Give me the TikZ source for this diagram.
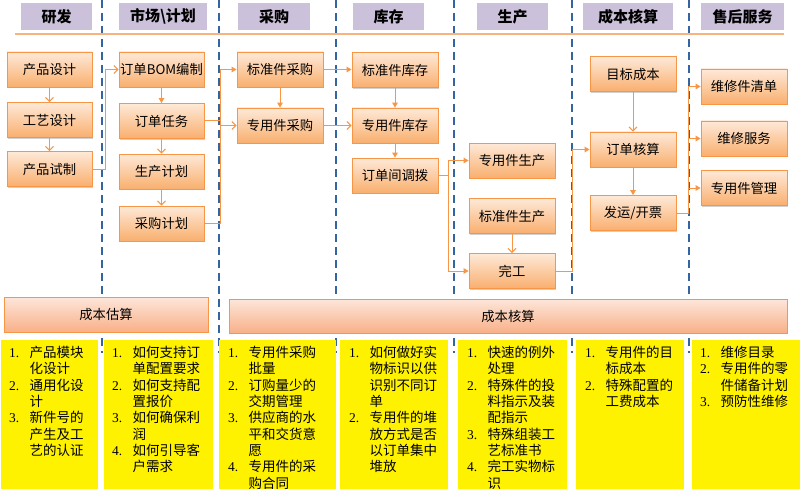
\documentclass[tikz,border=0pt]{standalone}
\usepackage{fontspec}
\setmainfont{Noto Sans CJK SC}
\newfontfamily\numf{Liberation Serif}
\usetikzlibrary{arrows.meta,shadows}
\definecolor{ob}{HTML}{F79646}
\definecolor{boxtop}{HTML}{FEE9D8}
\definecolor{boxbot}{HTML}{F9AF6E}
\definecolor{bartop}{HTML}{FDE6DA}
\definecolor{barbot}{HTML}{F8B088}
\definecolor{hdrc}{HTML}{CCC1DA}
\definecolor{dashc}{HTML}{3465A0}
\definecolor{hline}{HTML}{F8B47E}
\newcommand\N[1]{\makebox[20.5pt][l]{\numf #1}}
\tikzset{
  box/.style={draw=ob, line width=0.8pt, top color=boxtop, bottom color=boxbot,
    minimum width=86pt, minimum height=35pt, inner sep=0pt,
    font=\fontsize{13.3}{15}\selectfont,
    drop shadow={shadow xshift=1.3pt, shadow yshift=-1.3pt, opacity=0.3, fill=black!60}},
  hdr/.style={fill=hdrc, minimum height=27pt, inner sep=0pt, font=\fontsize{15}{17}\selectfont\bfseries},
  bar/.style={draw=ob, line width=0.8pt, top color=bartop, bottom color=barbot,
    inner sep=0pt, font=\fontsize{13.3}{15}\selectfont,
    drop shadow={shadow xshift=1.3pt, shadow yshift=-1.3pt, opacity=0.3, fill=black!60}},
  conn/.style={draw=ob, line width=1pt},
  arF/.style={conn, -{Triangle[length=5pt,width=5.5pt]}},
  arO/.style={conn, -{Straight Barb[length=4pt,width=8pt]}},
  vdash/.style={draw=dashc, line width=2.2pt, dash pattern=on 8pt off 5pt},
  ylist/.style={anchor=north west, inner sep=0pt, font=\fontsize{13.5}{16.3}\selectfont, align=left},
}
\begin{document}
\begin{tikzpicture}[x=1pt,y=-1pt]
\useasboundingbox (0,0) rectangle (800,500);
\fill[white] (0,0) rectangle (800,500);
% dashed separators
\foreach \x/\n in {102/d1,219/d2,336/d3,454/d4,572/d5,689/d6}
  \coordinate (\n) at (\x,0);
\foreach \n in {d1,d2,d3,d4,d5,d6}
  \draw[vdash] (\n) -- ++(0,353);
% header line
\coordinate (hl1) at (15,34); \coordinate (hl2) at (784,34);
\draw[draw=hline, line width=1.5pt] (hl1) -- (hl2);
% headers
\node[hdr, minimum width=71pt] (h1) at (56.5,16.5) {研发};
\node[hdr, minimum width=88pt] (h2) at (163,16.5) {市场\textbackslash 计划};
\node[hdr, minimum width=72pt] (h3) at (274,16.5) {采购};
\node[hdr, minimum width=71pt] (h4) at (388.5,16.5) {库存};
\node[hdr, minimum width=71pt] (h5) at (512.5,16.5) {生产};
\node[hdr, minimum width=90pt] (h6) at (628,16.5) {成本核算};
\node[hdr, minimum width=83pt] (h7) at (742.5,16.5) {售后服务};
% boxes
\node[box, minimum width=85pt] (p1) at (49.5,69.5) {产品设计};
\node[box, minimum width=85pt] (p2) at (49.5,120) {工艺设计};
\node[box, minimum width=85pt] (p3) at (49.5,169) {产品试制};
\node[box, minimum width=85pt] (m1) at (161.5,69.5) {订单BOM编制};
\node[box, minimum width=85pt] (m2) at (161.5,121) {订单任务};
\node[box, minimum width=85pt] (m3) at (161.5,171.5) {生产计划};
\node[box, minimum width=85pt] (m4) at (161.5,223.5) {采购计划};
\node[box] (c1) at (280,69.5) {标准件采购};
\node[box] (c2) at (280,125.5) {专用件采购};
\node[box] (k1) at (395,70) {标准件库存};
\node[box] (k2) at (395,125.5) {专用件库存};
\node[box] (k3) at (395,175.5) {订单间调拨};
\node[box] (s1) at (512,160.5) {专用件生产};
\node[box] (s2) at (512,216) {标准件生产};
\node[box] (s3) at (512,271) {完工};
\node[box] (b1) at (633,74) {目标成本};
\node[box] (b2) at (633,149.5) {订单核算};
\node[box] (b3) at (633,213) {发运/开票};
\node[box] (a1) at (744,86.5) {维修件清单};
\node[box] (a2) at (744,138.5) {维修服务};
\node[box] (a3) at (744,188) {专用件管理};
% connectors
\draw[arO] (p1) -- (p2);
\draw[arO] (p2) -- (p3);
\draw[arO] (p3.east) -- ++(13,0) |- (m1.west);
\draw[arF] (m1) -- (m2);
\draw[arO] (m2) -- (m3);
\draw[arO] (m3) -- (m4);
\draw[arF] (m4.east) -- ++(16,0) |- (c1.west);
\draw[arO] (m2.east) -- ++(16,0) |- (c2.west);
\draw[arF] (c1) -- (c2);
\draw[arF] (c1.east) -- (c1.east -| k1.west);
\draw[arO] (c2.east) -- (c2.east -| k2.west);
\draw[arF] (k1) -- (k2);
\draw[arF] (k2) -- (k3);
\draw[arF] (k3.east) -- ++(10,0) |- (s1.west);
\draw[arF] (k3.east) -- ++(10,0) |- (s3.west);
\draw[arO] (s2) -- (s3);
\draw[arF] (s3.east) -- ++(17,0) |- (b2.west);
\draw[arO] (b1) -- (b2);
\draw[arF] (b2) -- (b3);
\draw[arF] (b3.east) -- ++(12,0) |- (a1.west);
\draw[arF] (b3.east) -- ++(12,0) |- (a2.west);
\draw[arF] (b3.east) -- ++(12,0) |- (a3.west);
% bars
\node[bar, minimum width=204pt, minimum height=35pt] (bar1) at (106,314.5) {成本估算};
\node[bar, minimum width=558pt, minimum height=34pt] (bar2) at (508,316) {成本核算};
% yellow boxes
\fill[yellow] (1,340) rectangle (98,489);
\fill[yellow] (104,340) rectangle (213,489);
\fill[yellow] (219,340) rectangle (336,489);
\fill[yellow] (340,340) rectangle (448,489);
\fill[yellow] (458,340) rectangle (567,489);
\fill[yellow] (576,340) rectangle (684,489);
\fill[yellow] (692,340) rectangle (800,489);
\begin{scope}
\clip (0,340) rectangle (800,489);
\node[ylist] (t1) at (9,346) {\begin{tabular}{@{}l@{}l@{}}
\N{1.}&产品模块\\ &化设计\\ \N{2.}&通用化设\\ &计\\ \N{3.}&新件号的\\ &产生及工\\ &艺的认证
\end{tabular}};
\node[ylist] (t2) at (112,346) {\begin{tabular}{@{}l@{}l@{}}
\N{1.}&如何支持订\\ &单配置要求\\ \N{2.}&如何支持配\\ &置报价\\ \N{3.}&如何确保利\\ &润\\ \N{4.}&如何引导客\\ &户需求
\end{tabular}};
\node[ylist] (t3) at (228,346) {\begin{tabular}{@{}l@{}l@{}}
\N{1.}&专用件采购\\ &批量\\ \N{2.}&订购量少的\\ &交期管理\\ \N{3.}&供应商的水\\ &平和交货意\\ &愿\\ \N{4.}&专用件的采\\ &购合同
\end{tabular}};
\node[ylist] (t4) at (349,346) {\begin{tabular}{@{}l@{}l@{}}
\N{1.}&如何做好实\\ &物标识以供\\ &识别不同订\\ &单\\ \N{2.}&专用件的堆\\ &放方式是否\\ &以订单集中\\ &堆放
\end{tabular}};
\node[ylist] (t5) at (467,346) {\begin{tabular}{@{}l@{}l@{}}
\N{1.}&快速的例外\\ &处理\\ \N{2.}&特殊件的投\\ &料指示及装\\ &配指示\\ \N{3.}&特殊组装工\\ &艺标准书\\ \N{4.}&完工实物标\\ &识
\end{tabular}};
\node[ylist] (t6) at (585,346) {\begin{tabular}{@{}l@{}l@{}}
\N{1.}&专用件的目\\ &标成本\\ \N{2.}&特殊配置的\\ &工费成本
\end{tabular}};
\node[ylist] (t7) at (700,346) {\begin{tabular}{@{}l@{}l@{}}
\N{1.}&维修目录\\ \N{2.}&专用件的零\\ &件储备计划\\ \N{3.}&预防性维修
\end{tabular}};
\end{scope}
\end{tikzpicture}
\end{document}
